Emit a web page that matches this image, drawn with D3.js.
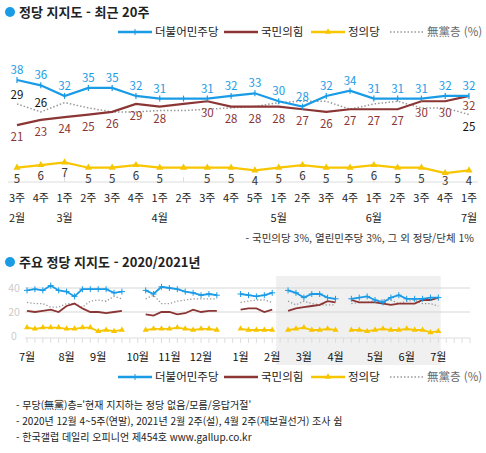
<!DOCTYPE html>
<html lang="ko">
<head>
<meta charset="UTF-8">
<title>정당 지지도</title>
<style>
  * { margin: 0; padding: 0; }
  body { background: #fff; }
  svg { display: block; font-family: "Noto Sans CJK KR", "Noto Sans", sans-serif; }
</style>
</head>
<body>
<script src="https://cdn.jsdelivr.net/npm/d3@7"></script>
<script>
// 최근 20주
var weeks = ['3주','4주','1주','2주','3주','4주','1주','2주','3주','4주','5주','1주','2주','3주','4주','1주','2주','3주','4주','1주'];
var monthLabels = [[0,'2월'],[2,'3월'],[6,'4월'],[11,'5월'],[15,'6월'],[19,'7월']];
var dem = [38,36,32,35,35,32,31,31,31,32,33,30,28,32,34,31,31,31,32,32];
var ppp = [21,23,24,25,26,29,28,29,30,28,28,28,27,26,27,27,27,30,30,32];
var jus = [5,6,7,5,5,6,5,5,5,5,4,5,6,5,5,6,5,5,3,4];
var nonp = [29,26,29.5,27.5,26,26,26.5,26.5,27,27.5,28,29.5,30,30,27,29,30,27.5,27.5,25];
var nonpLabels = {0: 29, 1: 26, 19: 25};

// 2020/2021년 (주 번호, 7월 1주 = 0)
var segStarts = [0, 15, 27, 33, 41];
var demL = [[38,39,38,42,38,37,33,39,39,39,39,36,37],[38,35,41,40,39,37,36,34,35,34],[35,34,33,34,36],
  [38,36,32,35,35,32,31],[31,32,33,30,28,32,34,31,31,31,32,32]];
var pppL = [[21,20,21,22,20,25,27,23,20,20,19,20,21],[18,17,20,20,18,19,22,20,21,21],[22,23,23,20,22],
  [21,23,24,25,26,29,28],[30,28,28,28,27,26,27,27,27,30,30,32]];
var jusL = [[7,6,7,7,7,6,6,7,7,4,5,4,5],[5,6,6,6,7,6,5,6,6,5],[6,5,5,5,5],
  [5,6,7,5,5,6,5],[5,5,4,5,6,5,5,6,5,5,3,4]];
var nonL = [[28,27,27,24,24,27,27,24,29,30,29,33,31],[31,34,27,27,29,30,31,31,31,31],[28,29,30,30,28],
  [29,26,29,27,26,26,26],[27,28,28,29,30,30,27,29,30,27,27,25]];
var months2 = [[0,'7월'],[5,'8월'],[9,'9월'],[14,'10월'],[18,'11월'],[22,'12월'],[27,'1월'],[31,'2월'],[35,'3월'],[39,'4월'],[44,'5월'],[48,'6월'],[52,'7월']];

var C = {dem: '#1a9be6', ppp: '#8b3535', jus: '#f7c600', non: '#999'};
var W = 486, H = 453;
var svg = d3.select('body').append('svg').attr('width', W).attr('height', H);

function legend(y) {
  var items = [['더불어민주당', C.dem, 118, 'dem'], ['국민의힘', C.ppp, 224, 'ppp'], ['정의당', C.jus, 311, 'jus'], ['無黨층 (%)', C.non, 390, 'non']];
  items.forEach(function (it) {
    var g = svg.append('g');
    g.append('line').attr('x1', it[2]).attr('x2', it[2] + 34).attr('y1', y).attr('y2', y)
      .attr('stroke', it[1]).attr('stroke-width', it[3] == 'non' ? 1.5 : 2.5)
      .attr('stroke-dasharray', it[3] == 'non' ? '1.5,2' : null);
    if (it[3] == 'dem') g.append('path').attr('d', 'M' + (it[2] + 17) + ',' + (y - 3) + 'v6').attr('stroke', it[1]);
    if (it[3] == 'jus') g.append('path').attr('d', d3.symbol(d3.symbolTriangle, 18)()).attr('transform', 'translate(' + (it[2] + 17) + ',' + y + ')').attr('fill', it[1]);
    g.append('text').attr('x', it[2] + 37).attr('y', y + 4).attr('font-size', 11.5)
      .attr('fill', it[3] == 'non' ? '#666' : '#222').text(it[0]);
  });
}

// 제목 1
svg.append('circle').attr('cx', 10).attr('cy', 12).attr('r', 5).attr('fill', '#1a9be6');
svg.append('text').attr('x', 19).attr('y', 17).attr('font-size', 13).attr('font-weight', 'bold').attr('fill', '#222').text('정당 지지도 - 최근 20주');
legend(32);

// 상단 차트
var x1 = d3.scalePoint().domain(d3.range(20)).range([17, 469]);
var y1 = d3.scaleLinear().domain([0, 38]).range([181, 80]);
var line1 = d3.line().x(function (d, i) { return x1(i); }).y(function (d) { return y1(d); });

svg.append('line').attr('x1', 8).attr('x2', 478).attr('y1', 182).attr('y2', 182).attr('stroke', '#ddd');
svg.selectAll('.tk1').data(d3.range(20)).enter().append('line')
  .attr('x1', function (d) { return x1(d); }).attr('x2', function (d) { return x1(d); })
  .attr('y1', 177).attr('y2', 182).attr('stroke', '#ddd');

svg.append('path').datum(nonp).attr('d', line1).attr('fill', 'none').attr('stroke', C.non).attr('stroke-width', 1.5).attr('stroke-dasharray', '1.5,2');
svg.append('path').datum(ppp).attr('d', line1).attr('fill', 'none').attr('stroke', C.ppp).attr('stroke-width', 2.2);
svg.append('path').datum(jus).attr('d', line1).attr('fill', 'none').attr('stroke', C.jus).attr('stroke-width', 2.2);
svg.selectAll('.jm').data(jus).enter().append('path')
  .attr('d', d3.symbol(d3.symbolTriangle, 22)())
  .attr('transform', function (d, i) { return 'translate(' + x1(i) + ',' + y1(d) + ')'; }).attr('fill', C.jus);
svg.append('path').datum(dem).attr('d', line1).attr('fill', 'none').attr('stroke', C.dem).attr('stroke-width', 2.2);
svg.selectAll('.dm').data(dem).enter().append('line')
  .attr('x1', function (d, i) { return x1(i); }).attr('x2', function (d, i) { return x1(i); })
  .attr('y1', function (d) { return y1(d) - 3; }).attr('y2', function (d) { return y1(d) + 3; })
  .attr('stroke', C.dem).attr('stroke-width', 1.2);

var lab = svg.append('g').attr('font-size', 11.5).attr('text-anchor', 'middle');
dem.forEach(function (d, i) {
  if (i == 7) return;
  lab.append('text').attr('x', x1(i)).attr('y', y1(d) - 6).attr('fill', C.dem).text(d);
});
ppp.forEach(function (d, i) {
  if (i == 7) return;
  var yy = i == 19 ? y1(d) + 14 : y1(d) + 16;
  lab.append('text').attr('x', x1(i)).attr('y', yy).attr('fill', C.ppp).text(d);
});
jus.forEach(function (d, i) {
  if (i == 7) return;
  lab.append('text').attr('x', x1(i)).attr('y', Math.min(y1(d) + 15, 185)).attr('fill', '#333').text(d);
});
Object.keys(nonpLabels).forEach(function (k) {
  var i = +k;
  lab.append('text').attr('x', x1(i)).attr('y', i == 19 ? y1(nonp[i]) + 16 : y1(nonp[i]) - 5).attr('fill', '#111').text(nonpLabels[k]);
});
weeks.forEach(function (w, i) {
  lab.append('text').attr('x', x1(i)).attr('y', 202).attr('fill', '#222').attr('font-size', 11).text(w);
});
monthLabels.forEach(function (m) {
  lab.append('text').attr('x', x1(m[0])).attr('y', 222).attr('fill', '#222').attr('font-size', 11).text(m[1]);
});
svg.append('text').attr('x', 474).attr('y', 242).attr('text-anchor', 'end').attr('font-size', 10.5).attr('fill', '#333')
  .text('- 국민의당 3%, 열린민주당 3%, 그 외 정당/단체 1%');

// 제목 2
svg.append('circle').attr('cx', 10).attr('cy', 262).attr('r', 5).attr('fill', '#1a9be6');
svg.append('text').attr('x', 19).attr('y', 267).attr('font-size', 13).attr('font-weight', 'bold').attr('fill', '#222').text('주요 정당 지지도 - 2020/2021년');

// 하단 차트
var x2 = d3.scaleLinear().domain([0, 56]).range([27, 470]);
var y2 = d3.scaleLinear().domain([0, 40]).range([336, 288]);
svg.append('rect').attr('x', x2(31.5)).attr('y', 276).attr('width', x2(52.3) - x2(31.5)).attr('height', 89).attr('fill', '#f0f0f0');
[20, 40].forEach(function (v) {
  svg.append('line').attr('x1', 25).attr('x2', 470).attr('y1', y2(v)).attr('y2', y2(v)).attr('stroke', '#d6d6d6');
});
[0, 20, 40].forEach(function (v) {
  svg.append('text').attr('x', 14).attr('y', y2(v) + 4).attr('text-anchor', 'middle').attr('font-size', 10.5).attr('fill', '#ccc').text(v);
});
svg.append('line').attr('x1', 25).attr('x2', 470).attr('y1', 338).attr('y2', 338).attr('stroke', '#ddd');
svg.selectAll('.tk2').data(d3.range(57)).enter().append('line')
  .attr('x1', function (d) { return x2(d); }).attr('x2', function (d) { return x2(d); })
  .attr('y1', 338).attr('y2', 343).attr('stroke', '#ddd');
months2.forEach(function (m) {
  svg.append('text').attr('x', x2(m[0])).attr('y', 361).attr('text-anchor', 'middle').attr('font-size', 11).attr('fill', '#111').text(m[1]);
});

function drawSeries(data, color, kind) {
  data.forEach(function (seg, s) {
    var pts = seg.map(function (v, i) { return [segStarts[s] + i, v]; });
    var ln = d3.line().x(function (d) { return x2(d[0]); }).y(function (d) { return y2(d[1]); });
    svg.append('path').datum(pts).attr('d', ln).attr('fill', 'none').attr('stroke', color)
      .attr('stroke-width', kind == 'non' ? 1.3 : 1.8).attr('stroke-dasharray', kind == 'non' ? '1.3,2' : null);
    if (kind == 'dem') {
      svg.selectAll(null).data(pts).enter().append('path')
        .attr('d', function (d) { return 'M' + (x2(d[0]) - 3) + ',' + y2(d[1]) + 'h6M' + x2(d[0]) + ',' + (y2(d[1]) - 3) + 'v6'; })
        .attr('stroke', color).attr('stroke-width', 1);
    }
    if (kind == 'jus') {
      svg.selectAll(null).data(pts).enter().append('path')
        .attr('d', d3.symbol(d3.symbolTriangle, 16)())
        .attr('transform', function (d) { return 'translate(' + x2(d[0]) + ',' + y2(d[1]) + ')'; }).attr('fill', color);
    }
  });
}
drawSeries(nonL, C.non, 'non');
drawSeries(pppL, C.ppp, 'ppp');
drawSeries(jusL, C.jus, 'jus');
drawSeries(demL, C.dem, 'dem');

legend(377);

var notes = ['- 무당(無黨)층=\'현재 지지하는 정당 없음/모름/응답거절\'',
  '- 2020년 12월 4~5주(연말), 2021년 2월 2주(설), 4월 2주(재보궐선거) 조사 쉼',
  '- 한국갤럽 데일리 오피니언 제454호 www.gallup.co.kr'];
notes.forEach(function (t, i) {
  svg.append('text').attr('x', 16).attr('y', 409 + i * 16).attr('font-size', 10).attr('fill', '#222').text(t);
});
</script>
</body>
</html>
